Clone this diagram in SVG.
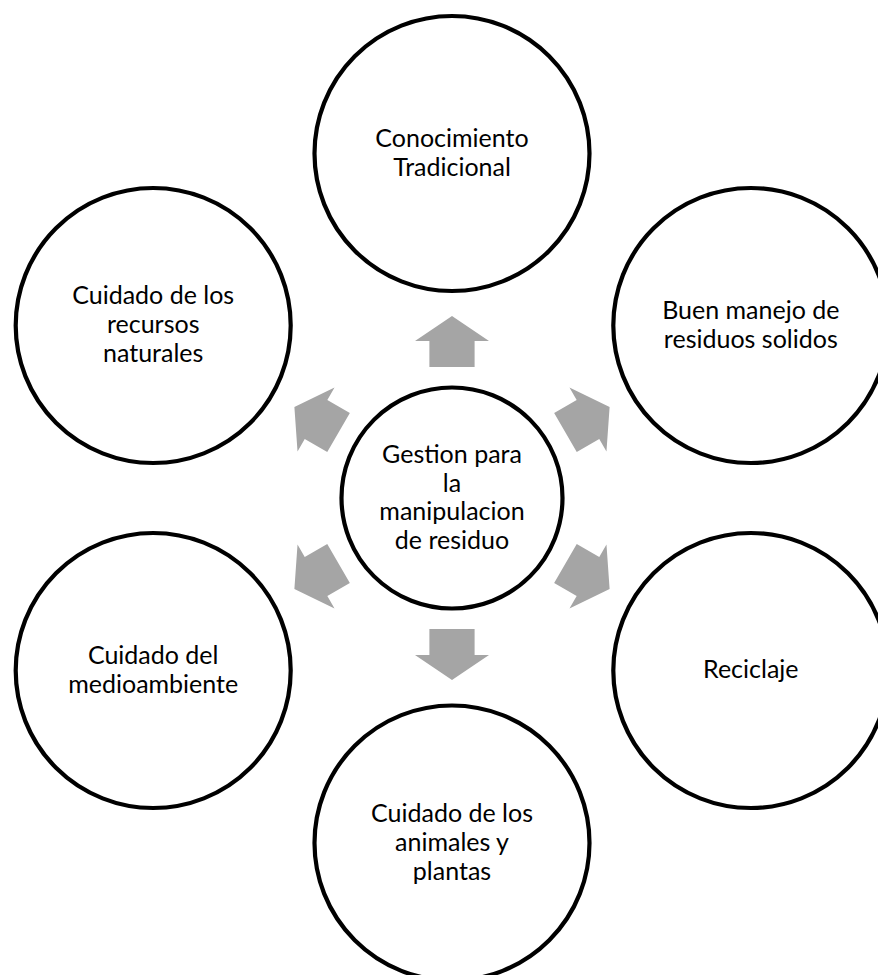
<svg xmlns="http://www.w3.org/2000/svg" width="878" height="975" viewBox="0 0 878 975">
<style>
.node circle{fill:#fff;stroke:#000;stroke-width:4.2}
.node text{font-family:Lato,"Liberation Sans",sans-serif;font-size:25px;fill:#000;text-anchor:middle}
.arr{fill:#A5A5A5}
</style>
<defs>
<path id="arrow" d="M -22.6,-131 L -22.6,-157 L -37,-157 L 0,-182 L 37,-157 L 22.6,-157 L 22.6,-131 Z"/>
</defs>
<rect width="878" height="975" fill="#fff"/>
<g id="connectors">
<use href="#arrow" class="arr" transform="translate(452,498) rotate(0)"/>
<use href="#arrow" class="arr" transform="translate(452,498) rotate(60)"/>
<use href="#arrow" class="arr" transform="translate(452,498) rotate(120)"/>
<use href="#arrow" class="arr" transform="translate(452,498) rotate(180)"/>
<use href="#arrow" class="arr" transform="translate(452,498) rotate(240)"/>
<use href="#arrow" class="arr" transform="translate(452,498) rotate(300)"/>
</g>
<g id="center" class="node">
<circle cx="452" cy="498" r="110.5"/>
<text x="452"><tspan x="452" y="462.7">Gestion para</tspan><tspan x="452" y="491.5">la</tspan><tspan x="452" y="520.3">manipulacion</tspan><tspan x="452" y="549.1">de residuo</tspan></text>
</g>
<g id="top" class="node">
<circle cx="452" cy="153.5" r="137.5"/>
<text><tspan x="452" y="146.7">Conocimiento</tspan><tspan x="452" y="175.7">Tradicional</tspan></text>
</g>
<g id="top-right" class="node">
<circle cx="750.8" cy="325.5" r="137.5"/>
<text><tspan x="750.8" y="318.7">Buen manejo de</tspan><tspan x="750.8" y="347.7">residuos solidos</tspan></text>
</g>
<g id="bottom-right" class="node">
<circle cx="750.8" cy="670.5" r="137.5"/>
<text><tspan x="750.8" y="678">Reciclaje</tspan></text>
</g>
<g id="bottom" class="node">
<circle cx="452" cy="843" r="137.5"/>
<text><tspan x="452" y="821.7">Cuidado de los</tspan><tspan x="452" y="850.7">animales y</tspan><tspan x="452" y="879.7">plantas</tspan></text>
</g>
<g id="bottom-left" class="node">
<circle cx="153.2" cy="670.5" r="137.5"/>
<text><tspan x="153.2" y="663.5">Cuidado del</tspan><tspan x="153.2" y="692.5">medioambiente</tspan></text>
</g>
<g id="top-left" class="node">
<circle cx="153.2" cy="325.5" r="137.5"/>
<text><tspan x="153.2" y="304">Cuidado de los</tspan><tspan x="153.2" y="333">recursos</tspan><tspan x="153.2" y="362">naturales</tspan></text>
</g>
</svg>
